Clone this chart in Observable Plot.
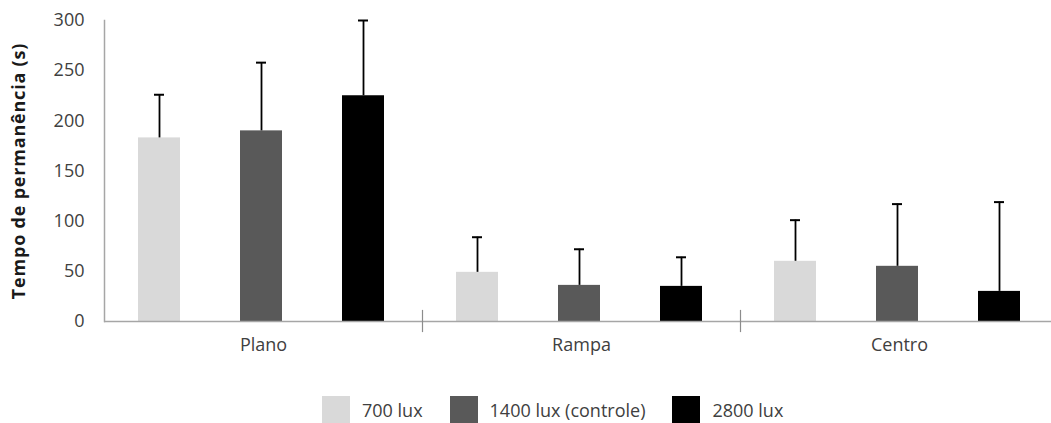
<!DOCTYPE html>
<html lang="pt">
<head>
<meta charset="utf-8">
<script src="https://cdn.jsdelivr.net/npm/d3@7"></script>
<script src="https://cdn.jsdelivr.net/npm/@observablehq/plot@0.6"></script>
<style>
  html, body { margin: 0; padding: 0; background: #fff; overflow: hidden; }
  #grafico svg { display: block; }
  #grafico g[aria-label="y-axis label"] text { font-weight: 700; letter-spacing: 0.8px; fill: #1a1a1a; }
  .legenda { display: flex; align-items: center; padding-left: 322px; margin-top: 21px;
             font-family: "Open Sans", sans-serif; font-size: 18px; color: #404040; }
  .item { display: flex; align-items: center; margin-right: 27px; }
  .amostra { width: 28px; height: 27px; margin-right: 12px; }
</style>
</head>
<body>
<div id="grafico"></div>
<script>
// Tempo de permanência por local, para cada intensidade de luz (média + desvio padrão)
const locais = ["Plano", "Rampa", "Centro"];
const series = ["700 lux", "1400 lux (controle)", "2800 lux"];
const media700 = [183, 49, 60];
const media1400 = [190, 36, 55];
const media2800 = [225, 35, 30];
const dp700 = [43, 35, 41];
const dp1400 = [68, 36, 62];
const dp2800 = [75, 29, 89];
const cores = ["#d9d9d9", "#595959", "#000000"];
const ticksY = [0, 50, 100, 150, 200, 250, 300];

const medias = [media700, media1400, media2800];
const desvios = [dp700, dp1400, dp2800];
const dados = [];
locais.forEach((local, i) => {
  series.forEach((serie, j) => {
    dados.push({local, serie, valor: medias[j][i], desvio: desvios[j][i]});
  });
});

const grafico = Plot.plot({
  width: 1051,
  height: 375,
  marginTop: 20,
  marginBottom: 54,
  marginLeft: 104,
  marginRight: -7,
  style: {fontFamily: "Open Sans, sans-serif", fontSize: "18px", color: "#404040", background: "#fff"},
  fx: {domain: locais, padding: 0, axis: "bottom", label: null, tickSize: 0, tickPadding: 17},
  x: {domain: series, axis: null, paddingInner: 0.588, paddingOuter: 0.348, align: 0.47},
  y: {domain: [0, 300], ticks: ticksY, tickSize: 0, tickPadding: 20,
      label: "Tempo de permanência (s)", labelAnchor: "center", labelOffset: 92, labelArrow: "none"},
  color: {domain: series, range: cores},
  marks: [
    Plot.barY(dados, {fx: "local", x: "serie", y: "valor", fill: "serie"}),
    Plot.ruleX(dados, {fx: "local", x: "serie", y1: "valor", y2: d => d.valor + d.desvio,
                       stroke: "#000", strokeWidth: 1.8}),
    Plot.tickY(dados, {fx: "local", x: "serie", y: d => d.valor + d.desvio,
                       stroke: "#000", strokeWidth: 2, insetLeft: 16, insetRight: 16}),
    Plot.ruleY([0], {stroke: "#a6a6a6", strokeWidth: 1.5}),
    Plot.frame({anchor: "left", fx: "Plano", stroke: "#a6a6a6", strokeWidth: 1.5}),
    Plot.frame({anchor: "left", fx: "Rampa", stroke: "#8c8c8c", strokeWidth: 1.2, insetTop: 290, insetBottom: -10}),
    Plot.frame({anchor: "left", fx: "Centro", stroke: "#8c8c8c", strokeWidth: 1.2, insetTop: 290, insetBottom: -10})
  ]
});
document.getElementById("grafico").appendChild(grafico);

// Legenda das séries
const legenda = document.createElement("div");
legenda.className = "legenda";
series.forEach((serie, j) => {
  const item = document.createElement("div");
  item.className = "item";
  const amostra = document.createElement("span");
  amostra.className = "amostra";
  amostra.style.background = cores[j];
  const rotulo = document.createElement("span");
  rotulo.textContent = serie;
  item.appendChild(amostra);
  item.appendChild(rotulo);
  legenda.appendChild(item);
});
document.getElementById("grafico").appendChild(legenda);
</script>
</body>
</html>
